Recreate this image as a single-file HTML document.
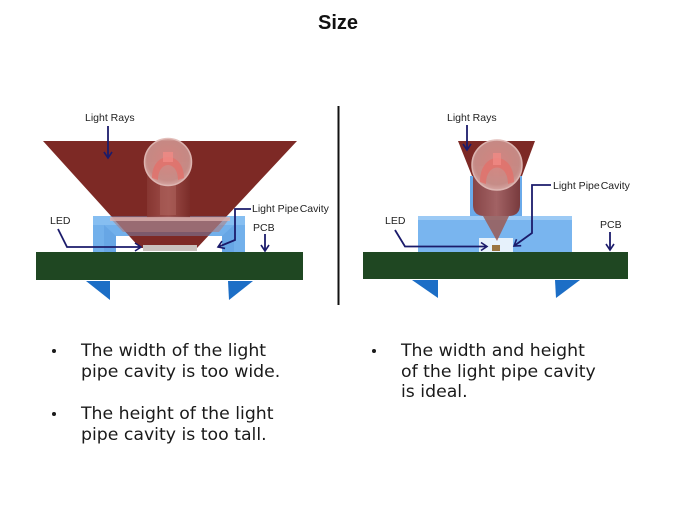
<!DOCTYPE html>
<html><head><meta charset="utf-8"><style>
html,body{margin:0;padding:0;background:#fff;width:675px;height:506px;overflow:hidden}
svg{display:block}
</style></head><body>
<svg width="675" height="506" viewBox="0 0 675 506" xmlns="http://www.w3.org/2000/svg">
<defs>
<marker id="ah" markerWidth="10" markerHeight="10" refX="7" refY="5" orient="auto" markerUnits="userSpaceOnUse">
<path d="M1,1 L7,5 L1,9" fill="none" stroke="#1b1b6b" stroke-width="1.6"/>
</marker>
<linearGradient id="cyl" x1="0" x2="1" y1="0" y2="0">
<stop offset="0" stop-color="#8a3a35"/><stop offset="0.5" stop-color="#a85a55"/><stop offset="1" stop-color="#7a2e2a"/>
</linearGradient>
<radialGradient id="ball" cx="0.5" cy="0.45" r="0.55">
<stop offset="0" stop-color="#d98a85"/><stop offset="0.8" stop-color="#c98f8a"/><stop offset="1" stop-color="#d9aaa6"/>
</radialGradient>
</defs>

<text x="338" y="29" text-anchor="middle" font-family="Liberation Sans, Arial, sans-serif" font-weight="bold" font-size="20" fill="#111">Size</text>

<!-- separator -->
<line x1="338.5" y1="106" x2="338.5" y2="305" stroke="#111" stroke-width="2"/>

<!-- ================= LEFT DIAGRAM ================= -->
<path d="M93,216 H245 V252 H222 V236 H116 V252 H93 Z" fill="#6eaeea"/>
<rect x="93" y="216" width="152" height="9" fill="#8cc4f3"/>
<path d="M104,225 L116,236 V252 H104 Z" fill="#5c9ee0"/>
<path d="M234,225 L222,236 V252 H234 Z" fill="#5c9ee0"/>
<rect x="116" y="236" width="106" height="16" fill="#ffffff"/>
<polygon points="43,141 297,141 197,248 140,248" fill="#7d2925"/>
<path d="M93,216 H245 V252 H222 V236 H116 V252 H93 Z" fill="#7ab4ee" opacity="0.35"/>
<rect x="147" y="162" width="43" height="56" fill="url(#cyl)" opacity="0.75"/>
<rect x="160" y="175" width="16" height="40" fill="#b06560" opacity="0.5"/>
<polygon points="110,218 230,218 219,232 123,232" fill="#b07a78" opacity="0.55"/>
<rect x="110" y="217" width="120" height="4" fill="#e0b5b3" opacity="0.75"/>
<rect x="143" y="245" width="54" height="6" fill="#c9c1bd"/>
<circle cx="168" cy="162" r="23.5" fill="url(#ball)" stroke="#e2bcb8" stroke-width="1.5" opacity="0.95"/>
<path d="M152,178 C152,150 184,150 184,178 L178,180 C178,160 158,160 158,180 Z" fill="#e2706a" opacity="0.8"/>
<rect x="163" y="152" width="10" height="10" fill="#f08a85" opacity="0.8"/>
<rect x="36" y="252" width="267" height="28" fill="#1f4722"/>
<polygon points="86,281 110,281 110,300" fill="#1c6ec6"/>
<polygon points="228,281 253,281 229,300" fill="#1c6ec6"/>

<g font-family="Liberation Sans, Arial, sans-serif" font-size="10.5" fill="#222">
<text x="85" y="121">Light Rays</text>
<text x="50" y="224">LED</text>
<text x="252" y="212">Light Pipe<tspan dx="1">Cavity</tspan></text>
<text x="253" y="231">PCB</text>
</g>
<g fill="none" stroke="#1b1b6b" stroke-width="1.8">
<path d="M108,126 V158" marker-end="url(#ah)"/>
<path d="M58,229 L67,247 H141" marker-end="url(#ah)"/>
<path d="M251,209 H235 V240 L218,247" marker-end="url(#ah)"/>
<path d="M265,234 V251" marker-end="url(#ah)"/>
</g>

<!-- ================= RIGHT DIAGRAM ================= -->
<rect x="418" y="216" width="154" height="36" fill="#79b5ef"/>
<rect x="418" y="216" width="154" height="4" fill="#9ccaf5"/>
<rect x="479" y="238" width="34" height="14" fill="#e6f1fb"/>
<rect x="470" y="176" width="52" height="40" fill="#6aaaea"/>
<polygon points="458,141 535,141 522,176 472,176" fill="#7d2925"/>
<polygon points="483,216 509,216 497,241" fill="#9a5a55" opacity="0.85"/>
<path d="M473,166 H520 V205 Q520,216 508,216 H485 Q473,216 473,205 Z" fill="url(#cyl)" opacity="0.9"/>
<circle cx="497" cy="165" r="25" fill="url(#ball)" stroke="#e2bcb8" stroke-width="1.5" opacity="0.95"/>
<path d="M480,182 C480,150 514,150 514,182 L508,184 C508,162 486,162 486,184 Z" fill="#e2706a" opacity="0.8"/>
<rect x="493" y="153" width="8" height="12" fill="#f08a85" opacity="0.8"/>
<rect x="492" y="245" width="8" height="6" fill="#9a7440"/>
<rect x="363" y="252" width="265" height="27" fill="#1f4722"/>
<polygon points="412,280 438,280 438,298" fill="#1c6ec6"/>
<polygon points="555,280 580,280 556,298" fill="#1c6ec6"/>

<g font-family="Liberation Sans, Arial, sans-serif" font-size="10.5" fill="#222">
<text x="447" y="121">Light Rays</text>
<text x="385" y="224">LED</text>
<text x="553" y="189">Light Pipe<tspan dx="1">Cavity</tspan></text>
<text x="600" y="228">PCB</text>
</g>
<g fill="none" stroke="#1b1b6b" stroke-width="1.8">
<path d="M467,125 V150" marker-end="url(#ah)"/>
<path d="M395,230 L405,246.5 H487" marker-end="url(#ah)"/>
<path d="M551,185 H532 V233 L514,246" marker-end="url(#ah)"/>
<path d="M610,232 V250" marker-end="url(#ah)"/>
</g>

<!-- ================= BULLETS ================= -->
<g font-family="DejaVu Sans, Verdana, sans-serif" font-size="17.3" fill="#1a1a1a">
<circle cx="54" cy="351" r="2" fill="#1a1a1a"/>
<text x="81" y="356">The width of the light</text>
<text x="81" y="377">pipe cavity is too wide.</text>
<circle cx="54" cy="414" r="2" fill="#1a1a1a"/>
<text x="81" y="419">The height of the light</text>
<text x="81" y="440">pipe cavity is too tall.</text>
<circle cx="374" cy="351" r="2" fill="#1a1a1a"/>
<text x="401" y="356">The width and height</text>
<text x="401" y="377">of the light pipe cavity</text>
<text x="401" y="397">is ideal.</text>
</g>
</svg>
</body></html>
